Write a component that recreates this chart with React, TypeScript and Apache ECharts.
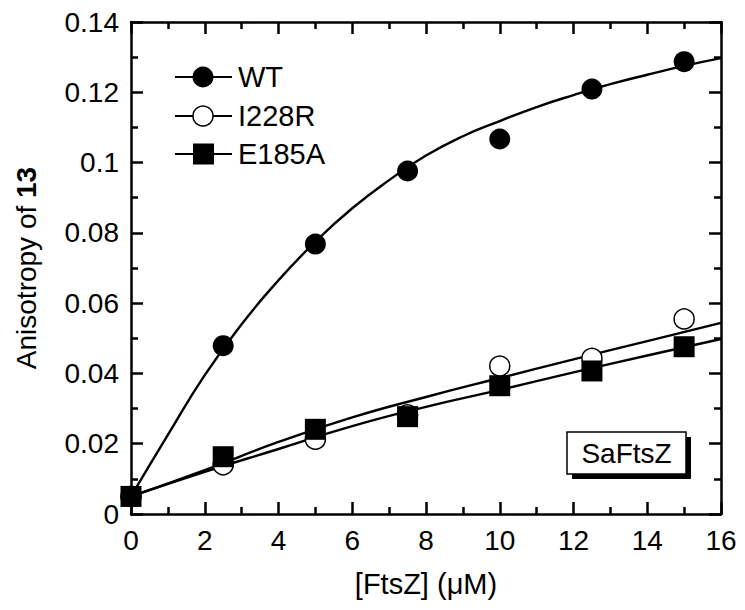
import React, { useEffect, useRef } from "react";
import * as echarts from "echarts";

// Measured points
const concX = [0, 2.5, 5, 7.5, 10, 12.5, 15];
const wtPts = [0.005, 0.0479, 0.0768, 0.0976, 0.1067, 0.1209, 0.1287];
const i228rPts = [0.005, 0.0140, 0.0213, 0.0282, 0.0421, 0.0443, 0.0555];
const e185aPts = [0.005, 0.0163, 0.0241, 0.0277, 0.0365, 0.0407, 0.0476];

// Fitted curves
const wtFitX = [0, 1, 2, 3, 4, 5, 6, 7, 8, 9, 10, 11, 12, 13, 14, 15, 16];
const wtFitY = [0.005, 0.0225, 0.0395, 0.054, 0.0665, 0.0775, 0.087, 0.095, 0.102, 0.1075, 0.1118, 0.1158, 0.1192, 0.1223, 0.125, 0.1275, 0.1297];
const lowFitX = [0, 2, 4, 6, 8, 10, 12, 14, 16];
const i228rFitY = [0.005, 0.0125, 0.0205, 0.0275, 0.0333, 0.0387, 0.044, 0.0492, 0.0544];
const e185aFitY = [0.005, 0.012, 0.0185, 0.025, 0.0305, 0.0353, 0.0403, 0.0451, 0.0498];

const legendNames = ["WT", "I228R", "E185A"];
const FONT = "'Liberation Sans', Arial, Helvetica, sans-serif";

const zip = (xs: number[], ys: number[]) => xs.map((x, i) => [x, ys[i]]);

export default function App() {
  const ref = useRef<HTMLDivElement>(null);
  useEffect(() => {
    if (!ref.current) return;
    const chart = echarts.init(ref.current, null, { renderer: "svg" });
    const axisCommon = {
      axisLine: { show: true, onZero: false, lineStyle: { color: "#000", width: 2.5 } },
      axisTick: { show: true, inside: true, length: 12, lineStyle: { color: "#000", width: 2.5 } },
      minorTick: { show: true, splitNumber: 2, length: 7, lineStyle: { color: "#000", width: 2.5 } },
      splitLine: { show: false },
      minorSplitLine: { show: false },
    };
    const labelStyle = { color: "#000", fontSize: 28, fontFamily: FONT, margin: 12 };
    const lineSeries = (ys: number[], xs: number[]) => ({
      type: "line",
      data: zip(xs, ys),
      smooth: true,
      showSymbol: false,
      symbol: "none",
      lineStyle: { color: "#000", width: 2.4 },
      z: 2,
      silent: true,
    });
    const legendY = [77, 116, 154];
    const legendGraphics: any[] = [];
    legendNames.forEach((name, i) => {
      const y = legendY[i];
      legendGraphics.push({
        type: "line",
        shape: { x1: 175, y1: y, x2: 232, y2: y },
        style: { stroke: "#000", lineWidth: 2 },
        z: 10,
      });
      if (i === 0) {
        legendGraphics.push({ type: "circle", shape: { cx: 203, cy: y, r: 10.5 }, style: { fill: "#000" }, z: 11 });
      } else if (i === 1) {
        legendGraphics.push({ type: "circle", shape: { cx: 203, cy: y, r: 10 }, style: { fill: "#fff", stroke: "#000", lineWidth: 1.5 }, z: 11 });
      } else {
        legendGraphics.push({ type: "rect", shape: { x: 193, y: y - 10.5, width: 21, height: 21 }, style: { fill: "#000" }, z: 11 });
      }
      legendGraphics.push({
        type: "text",
        x: 238,
        y: y,
        style: { text: name, fill: "#000", font: `29px ${FONT}`, textVerticalAlign: "middle", verticalAlign: "middle" },
        z: 11,
      });
    });
    const option: any = {
      animation: false,
      backgroundColor: "#fff",
      grid: { left: 131, top: 22, right: 24, bottom: 96 },
      xAxis: [
        {
          type: "value",
          min: 0,
          max: 16,
          interval: 2,
          position: "bottom",
          ...axisCommon,
          axisLabel: { ...labelStyle },
          name: "[FtsZ] (\u03bcM)",
          nameLocation: "middle",
          nameGap: 55,
          nameTextStyle: { color: "#000", fontSize: 29, fontFamily: FONT },
        },
        {
          type: "value",
          min: 0,
          max: 16,
          interval: 2,
          position: "top",
          ...axisCommon,
          axisLabel: { show: false },
        },
      ],
      yAxis: [
        {
          type: "value",
          min: 0,
          max: 0.14,
          interval: 0.02,
          position: "left",
          ...axisCommon,
          axisLabel: { ...labelStyle },
          name: "{a|Anisotropy of }{b|13}",
          nameLocation: "middle",
          nameGap: 91,
          nameRotate: 90,
          nameTextStyle: {
            color: "#000",
            fontSize: 28,
            fontFamily: FONT,
            rich: {
              a: { fontSize: 28, fontFamily: FONT, color: "#000" },
              b: { fontSize: 28, fontFamily: FONT, color: "#000", fontWeight: "bold" },
            },
          },
        },
        {
          type: "value",
          min: 0,
          max: 0.14,
          interval: 0.02,
          position: "right",
          ...axisCommon,
          axisLabel: { show: false },
        },
      ],
      series: [
        lineSeries(wtFitY, wtFitX),
        lineSeries(i228rFitY, lowFitX),
        lineSeries(e185aFitY, lowFitX),
        {
          name: "WT",
          type: "scatter",
          data: zip(concX, wtPts),
          symbol: "circle",
          symbolSize: 21,
          itemStyle: { color: "#000", opacity: 1 },
          emphasis: { disabled: true },
          z: 3,
        },
        {
          name: "I228R",
          type: "scatter",
          data: zip(concX, i228rPts),
          symbol: "circle",
          symbolSize: 20,
          itemStyle: { color: "#fff", borderColor: "#000", borderWidth: 1.5, opacity: 1 },
          emphasis: { disabled: true },
          z: 3,
        },
        {
          name: "E185A",
          type: "scatter",
          data: zip(concX, e185aPts),
          symbol: "rect",
          symbolSize: 21,
          itemStyle: { color: "#000", opacity: 1 },
          emphasis: { disabled: true },
          z: 4,
        },
      ],
      graphic: [
        ...legendGraphics,
        { type: "rect", shape: { x: 572, y: 437, width: 119, height: 42 }, style: { fill: "#000" }, z: 10 },
        { type: "rect", shape: { x: 567, y: 432, width: 119, height: 42 }, style: { fill: "#fff", stroke: "#000", lineWidth: 1.5 }, z: 11 },
        {
          type: "text",
          x: 626.5,
          y: 453,
          style: { text: "SaFtsZ", fill: "#000", font: `28px ${FONT}`, textAlign: "center", textVerticalAlign: "middle", align: "center", verticalAlign: "middle" },
          z: 12,
        },
      ],
    };
    chart.setOption(option);
    return () => chart.dispose();
  }, []);
  return <div ref={ref} style={{ width: 745, height: 610, margin: -8 }} />;
}
